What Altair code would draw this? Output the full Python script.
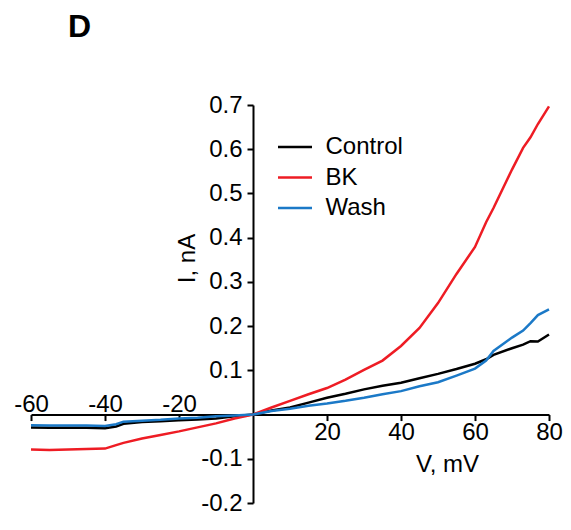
import altair as alt
import pandas as pd

# ---- data (membrane voltage, mV  vs  current, nA) ----
voltage = [-60, -55, -50, -45, -40, -37, -35, -30, -25, -20, -15, -10, -5, 0,
           5, 10, 15, 20, 25, 30, 35, 40, 45, 50, 55, 60, 63, 65, 70, 73, 75, 77, 80]
control = [-0.029, -0.030, -0.030, -0.030, -0.031, -0.027, -0.021, -0.017, -0.015, -0.013,
           -0.011, -0.009, -0.004, 0.0,
           0.009, 0.016, 0.027, 0.038, 0.047, 0.057, 0.065, 0.072, 0.082, 0.092, 0.103,
           0.115, 0.125, 0.135, 0.150, 0.158, 0.166, 0.165, 0.181]
bk = [-0.079, -0.080, -0.079, -0.078, -0.077, -0.069, -0.064, -0.054, -0.046, -0.038,
      -0.029, -0.020, -0.009, 0.0,
      0.016, 0.031, 0.046, 0.060, 0.079, 0.101, 0.122, 0.155, 0.196, 0.252, 0.318,
      0.379, 0.435, 0.467, 0.554, 0.603, 0.627, 0.657, 0.697]
wash = [-0.024, -0.025, -0.025, -0.025, -0.026, -0.022, -0.016, -0.014, -0.012, -0.009,
        -0.007, -0.004, -0.002, 0.0,
        0.008, 0.013, 0.020, 0.025, 0.031, 0.038, 0.046, 0.053, 0.064, 0.073, 0.088,
        0.104, 0.122, 0.144, 0.174, 0.190, 0.207, 0.225, 0.238]

series_names = ["Control", "BK", "Wash"]
series_colors = ["#000000", "#ee1c24", "#1b79c7"]
x_ticks = [-60, -40, -20, 20, 40, 60, 80]
y_ticks = [-0.2, -0.1, 0.1, 0.2, 0.3, 0.4, 0.5, 0.6, 0.7]
x_domain = [-60, 80]
y_domain = [-0.2, 0.7]

rows = []
for name, vals in zip(series_names, [control, bk, wash]):
    for v, i in zip(voltage, vals):
        rows.append({"V": v, "I": i, "series": name})
df = pd.DataFrame(rows)

FONT = "Liberation Sans"
FS = 24
W, H = 518, 398
# axes cross at the origin
x_axis_offset = -H * (0 - y_domain[0]) / (y_domain[1] - y_domain[0])
y_axis_offset = -W * (0 - x_domain[0]) / (x_domain[1] - x_domain[0])

x_axis = alt.Axis(
    values=x_ticks, labelExpr="toString(datum.value)", offset=x_axis_offset,
    tickSize=6, tickWidth=2, domainWidth=2, domainColor="black", tickColor="black",
    labelFont=FONT, labelFontSize=FS, labelColor="black",
    labelPadding={"condition": {"test": "datum.value < 0", "value": -28}, "value": 0},
    labelFlush=False, labelOverlap=False, grid=False,
    title="V, mV", titleFont=FONT, titleFontSize=FS, titleFontWeight="normal",
    titleColor="black", titleX=416, titleY=50, titleBaseline="middle", titleAlign="center",
)
y_axis = alt.Axis(
    values=y_ticks, labelExpr="toString(datum.value)", offset=y_axis_offset,
    tickSize=6, tickWidth=2, domainWidth=2, domainColor="black", tickColor="black",
    labelFont=FONT, labelFontSize=FS, labelColor="black", labelPadding=5,
    labelFlush=False, labelOverlap=False, grid=False,
    title="I, nA", titleFont=FONT, titleFontSize=FS, titleFontWeight="normal",
    titleColor="black", titleX=-66, titleY=153, titleAngle=270,
    titleBaseline="middle", titleAlign="center",
)

chart = alt.Chart(df).mark_line(strokeWidth=2.5).encode(
    x=alt.X("V:Q", scale=alt.Scale(domain=x_domain, nice=False, zero=False), axis=x_axis),
    y=alt.Y("I:Q", scale=alt.Scale(domain=y_domain, nice=False, zero=False), axis=y_axis),
    color=alt.Color(
        "series:N",
        scale=alt.Scale(domain=series_names, range=series_colors),
        legend=alt.Legend(
            title=None, orient="none", direction="vertical", legendX=252, legendY=30,
            symbolType="M-2,0H2", symbolSize=289, symbolStrokeWidth=2.5, symbolOffset=0,
            labelFont=FONT, labelFontSize=FS, labelColor="black", labelOffset=18.5,
            rowPadding=6.5, padding=0,
        ),
    ),
).properties(
    width=W, height=H,
    title=alt.TitleParams("D", anchor="start", frame="group", dx=37, offset=49,
                          font=FONT, fontSize=32, fontWeight="bold", color="black"),
    autosize=alt.AutoSizeParams(type="none"),
    padding={"left": 23, "top": 97, "right": 14, "bottom": 13},
).configure_view(stroke=None)

chart.save("out.html", embed_options={"renderer": "svg", "actions": False})
